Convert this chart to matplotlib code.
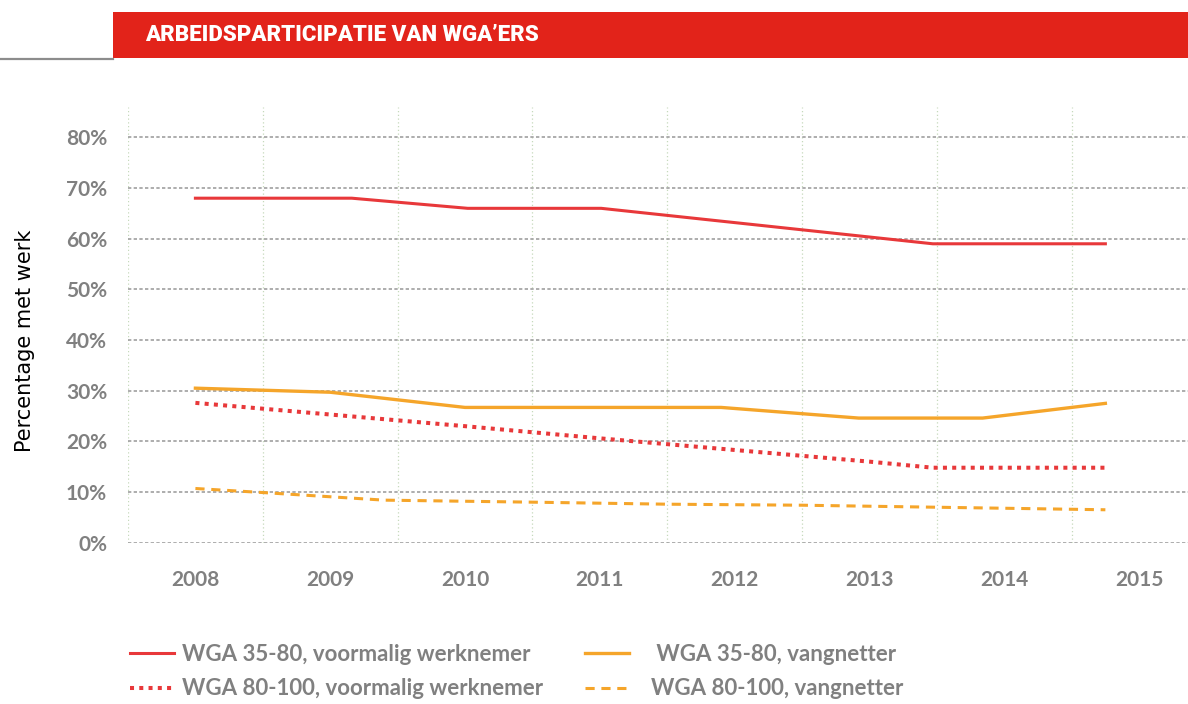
import matplotlib
matplotlib.use("Agg")
import matplotlib.pyplot as plt
from matplotlib.patches import Rectangle
from matplotlib.lines import Line2D

# data (x in years, y in percent)
years = [2008, 2009, 2010, 2011, 2012, 2013, 2014, 2015]
y_ticks = [0, 10, 20, 30, 40, 50, 60, 70, 80]

red_solid_x = [2008, 2009.16, 2010.02, 2011.01, 2013.47, 2014.75]
red_solid_y = [68, 68, 66, 66, 59, 59]

orange_solid_x = [2008, 2009.0, 2010.0, 2011.9, 2012.92, 2013.84, 2014.75]
orange_solid_y = [30.5, 29.7, 26.7, 26.7, 24.6, 24.6, 27.5]

red_dot_x = [2008, 2009, 2010, 2011, 2012, 2013, 2013.47, 2014.75]
red_dot_y = [27.6, 25.3, 23.0, 20.6, 18.3, 16.0, 14.8, 14.8]

orange_dash_x = [2008, 2008.5, 2009.4, 2010.5, 2011.5, 2012.5, 2013.5, 2014.5, 2014.75]
orange_dash_y = [10.7, 9.9, 8.4, 8.0, 7.6, 7.4, 7.0, 6.6, 6.5]

labels_left = ["WGA 35-80, voormalig werknemer", "WGA 80-100, voormalig werknemer"]
labels_right = [" WGA 35-80, vangnetter", "WGA 80-100, vangnetter"]

RED = "#e8383a"
ORANGE = "#f5a52a"
GREY_TXT = "#808080"

plt.rcParams['font.family'] = ['Lato', 'DejaVu Sans']

fig = plt.figure(figsize=(11.88, 7.04), dpi=100)
ax = fig.add_axes([128/1188, 1-542.7/704, 1-128/1188, (542.7-107)/704])

l1, = ax.plot(red_solid_x, red_solid_y, color=RED, lw=2.2, solid_joinstyle='round')
l2, = ax.plot(red_dot_x, red_dot_y, color=RED, lw=2.9, linestyle=(0, (1, 1.3)))
l3, = ax.plot(orange_solid_x, orange_solid_y, color=ORANGE, lw=2.4, solid_joinstyle='round')
l4, = ax.plot(orange_dash_x, orange_dash_y, color=ORANGE, lw=2.2, linestyle=(0, (3, 2.2)))

ax.set_xlim(2007.5, 2015.363)
ax.set_ylim(0, 86)
ax.set_yticks(y_ticks)
ax.set_yticklabels([f"{v}%" for v in y_ticks])
ax.set_xticks(years)
ax.set_xticklabels([str(y) for y in years])
ax.set_xticks([y - 0.5 for y in years], minor=True)
ax.tick_params(axis='both', which='both', length=0)
ax.tick_params(axis='y', pad=15, labelsize=15, labelcolor=GREY_TXT)
ax.tick_params(axis='x', pad=20, labelsize=15, labelcolor=GREY_TXT)
for t in ax.get_xticklabels() + ax.get_yticklabels():
    t.set_fontweight('bold')

ax.grid(axis='y', which='major', color='#a0a0a0', lw=1.2, linestyle=(0, (2, 1.4)))
ax.grid(axis='x', which='minor', color='#c6d9bc', lw=0.9, linestyle=(0, (1, 2)))
ax.grid(axis='x', which='major', visible=False)
ax.set_axisbelow(True)
for s in ax.spines.values():
    s.set_visible(False)

fig.text(25/1188, 1-341/704, "Percentage met werk", rotation=90, ha='center', va='center',
         fontsize=15, color='black', family=['DejaVu Sans'])

# title banner
fig.add_artist(Rectangle((113/1188, 1-58/704), 1-113/1188, 46/704, transform=fig.transFigure,
                         facecolor='#e2231a', edgecolor='none'))
fig.add_artist(Line2D([0, 113/1188], [1-59/704, 1-59/704], transform=fig.transFigure,
                      color='#8c8c8c', lw=1.6))
fig.text(145/1188, 1-35/704, "ARBEIDSPARTICIPATIE VAN WGA\u2019ERS", color='white',
         fontsize=16, fontweight='heavy', ha='left', va='center',
         family=['Roboto', 'DejaVu Sans'])

leg_kw = dict(loc='upper left', frameon=False, fontsize=16, handlelength=2.0,
              labelspacing=0.6, borderpad=0, borderaxespad=0)
leg1 = fig.legend([l1, l2], labels_left, bbox_to_anchor=(130/1188, 1-644/704),
                  handletextpad=0.36, **leg_kw)
leg2 = fig.legend([l3, l4], labels_right, bbox_to_anchor=(585/1188, 1-644/704),
                  handletextpad=0.95, **leg_kw)
for leg in (leg1, leg2):
    for t in leg.get_texts():
        t.set_color(GREY_TXT)
        t.set_fontweight('bold')

fig.savefig("out.png", dpi=100)
